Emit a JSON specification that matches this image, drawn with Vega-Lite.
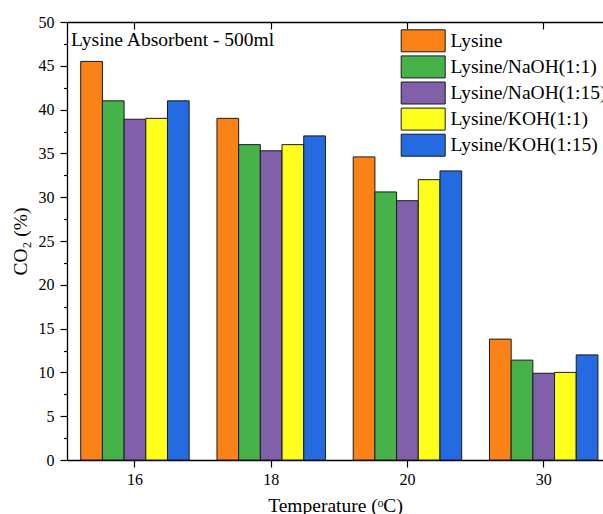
{
  "$schema": "https://vega.github.io/schema/vega-lite/v6.json",
  "width": 536,
  "height": 438,
  "autosize": {"type": "none"},
  "padding": {"left": 67, "top": 22, "right": 0, "bottom": 54},
  "background": "white",
  "config": {"font": "Liberation Serif", "view": {"stroke": null}},
  "data": {"values": [
    {"Temperature": "16", "Series": "Lysine", "CO2": 45.5},
    {"Temperature": "16", "Series": "Lysine/NaOH(1:1)", "CO2": 41.0},
    {"Temperature": "16", "Series": "Lysine/NaOH(1:15)", "CO2": 38.9},
    {"Temperature": "16", "Series": "Lysine/KOH(1:1)", "CO2": 39.0},
    {"Temperature": "16", "Series": "Lysine/KOH(1:15)", "CO2": 41.0},
    {"Temperature": "18", "Series": "Lysine", "CO2": 39.0},
    {"Temperature": "18", "Series": "Lysine/NaOH(1:1)", "CO2": 36.0},
    {"Temperature": "18", "Series": "Lysine/NaOH(1:15)", "CO2": 35.3},
    {"Temperature": "18", "Series": "Lysine/KOH(1:1)", "CO2": 36.0},
    {"Temperature": "18", "Series": "Lysine/KOH(1:15)", "CO2": 37.0},
    {"Temperature": "20", "Series": "Lysine", "CO2": 34.6},
    {"Temperature": "20", "Series": "Lysine/NaOH(1:1)", "CO2": 30.6},
    {"Temperature": "20", "Series": "Lysine/NaOH(1:15)", "CO2": 29.6},
    {"Temperature": "20", "Series": "Lysine/KOH(1:1)", "CO2": 32.0},
    {"Temperature": "20", "Series": "Lysine/KOH(1:15)", "CO2": 33.0},
    {"Temperature": "30", "Series": "Lysine", "CO2": 13.8},
    {"Temperature": "30", "Series": "Lysine/NaOH(1:1)", "CO2": 11.4},
    {"Temperature": "30", "Series": "Lysine/NaOH(1:15)", "CO2": 9.9},
    {"Temperature": "30", "Series": "Lysine/KOH(1:1)", "CO2": 10.0},
    {"Temperature": "30", "Series": "Lysine/KOH(1:15)", "CO2": 12.0}
  ]},
  "resolve": {"axis": {"x": "independent"}},
  "layer": [
    {
      "mark": {"type": "bar", "stroke": "#1a1a1a", "strokeWidth": 1},
      "encoding": {
        "x": {"field": "Temperature", "type": "ordinal", "sort": ["16", "18", "20", "30"],
          "scale": {"paddingInner": 0.204, "paddingOuter": 0.069, "align": 0.73},
          "axis": {"orient": "bottom", "title": "Temperature (ᵒC)", "labelAngle": 0, "labelFontSize": 16, "labelColor": "black", "labelPadding": 4, "tickSize": 7, "tickColor": "black", "tickWidth": 1.2, "domainColor": "black", "domainWidth": 1.3, "titleFontSize": 19.5, "titleFontWeight": "normal", "titleColor": "black", "titlePadding": 9, "grid": false}},
        "xOffset": {"field": "Series", "type": "nominal", "sort": ["Lysine", "Lysine/NaOH(1:1)", "Lysine/NaOH(1:15)", "Lysine/KOH(1:1)", "Lysine/KOH(1:15)"], "scale": {"paddingInner": 0, "paddingOuter": 0}},
        "y": {"field": "CO2", "type": "quantitative", "scale": {"domain": [0, 50], "nice": false},
          "axis": {"orient": "left", "title": "CO₂ (%)", "values": [0, 2.5, 5, 7.5, 10, 12.5, 15, 17.5, 20, 22.5, 25, 27.5, 30, 32.5, 35, 37.5, 40, 42.5, 45, 47.5, 50], "labelExpr": "datum.value % 5 ? '' : datum.label", "labelFontSize": 16, "labelColor": "black", "labelPadding": 6, "tickSize": 7, "tickDash": {"condition": {"test": "datum.value % 5 !== 0", "value": [3.5, 20]}, "value": []}, "tickColor": "black", "tickWidth": 1.2, "domainColor": "black", "domainWidth": 1.3, "titleFontSize": 19.5, "titleFontWeight": "normal", "titleColor": "black", "titlePadding": 8, "grid": false}},
        "color": {"field": "Series", "type": "nominal",
          "scale": {"domain": ["Lysine", "Lysine/NaOH(1:1)", "Lysine/NaOH(1:15)", "Lysine/KOH(1:1)", "Lysine/KOH(1:15)"], "range": ["#FA8216", "#48B24A", "#7F60A9", "#FFFF1C", "#246BE2"]},
          "legend": {"title": null, "orient": "none", "legendX": 344.7, "legendY": 7.3, "padding": 0, "symbolType": "M-2,-1H2V1H-2Z", "symbolSize": 484, "symbolStrokeColor": "#1a1a1a", "symbolStrokeWidth": 1, "symbolOpacity": 1, "labelFontSize": 19.5, "labelColor": "black", "labelOffset": 15.7, "rowPadding": -0.9, "labelLimit": 300}}
      }
    },
    {
      "data": {"values": [{"note": "Lysine Absorbent - 500ml"}]},
      "mark": {"type": "text", "align": "left", "baseline": "alphabetic", "fontSize": 19.5, "font": "Liberation Serif", "color": "black", "dx": -9.7},
      "encoding": {
        "text": {"field": "note", "type": "nominal"},
        "x": {"datum": "16", "type": "ordinal", "bandPosition": 0,
          "axis": {"orient": "top", "title": null, "labels": false, "domainColor": "black", "domainWidth": 1.3, "tickSize": -7, "tickColor": "black", "tickWidth": 1.2, "grid": false}},
        "y": {"datum": 47.3, "type": "quantitative",
          "axis": {"orient": "left", "title": "CO₂ (%)", "values": [0, 2.5, 5, 7.5, 10, 12.5, 15, 17.5, 20, 22.5, 25, 27.5, 30, 32.5, 35, 37.5, 40, 42.5, 45, 47.5, 50], "labelExpr": "datum.value % 5 ? '' : datum.label", "labelFontSize": 16, "labelColor": "black", "labelPadding": 6, "tickSize": 7, "tickDash": {"condition": {"test": "datum.value % 5 !== 0", "value": [3.5, 20]}, "value": []}, "tickColor": "black", "tickWidth": 1.2, "domainColor": "black", "domainWidth": 1.3, "titleFontSize": 19.5, "titleFontWeight": "normal", "titleColor": "black", "titlePadding": 8, "grid": false}}
      }
    }
  ]
}
